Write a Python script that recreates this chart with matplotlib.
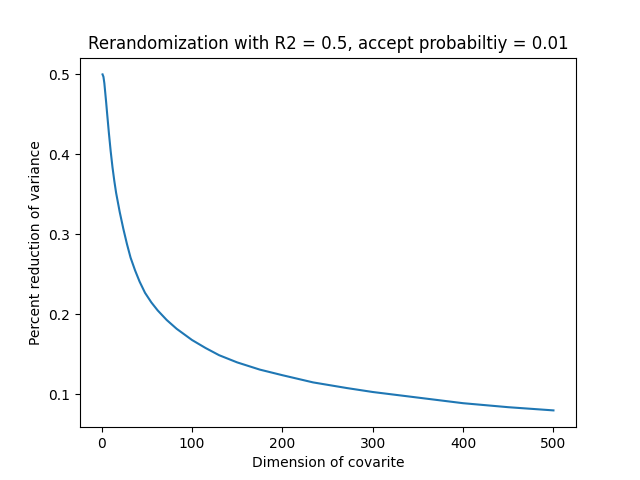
import matplotlib
matplotlib.use("Agg")
import matplotlib.pyplot as plt

# values
dimension = [1, 2, 3, 4, 5, 6, 8, 10, 12, 14, 16, 20, 24, 28, 32, 37, 42,
             48, 55, 62, 72, 83, 100, 115, 130, 150, 175, 200, 234, 271,
             300, 350, 400, 450, 500]
reduction = [0.500, 0.497, 0.489, 0.477, 0.465, 0.452, 0.427, 0.404, 0.384,
             0.367, 0.352, 0.328, 0.307, 0.288, 0.271, 0.255, 0.241, 0.227,
             0.215, 0.205, 0.193, 0.182, 0.168, 0.158, 0.149, 0.140, 0.131,
             0.124, 0.115, 0.108, 0.103, 0.096, 0.089, 0.084, 0.080]

plt.figure(figsize=(6.4, 4.8), dpi=100)
plt.plot(dimension, reduction)
plt.title("Rerandomization with R2 = 0.5, accept probabiltiy = 0.01")
plt.xlabel("Dimension of covarite")
plt.ylabel("Percent reduction of variance")
plt.savefig("out.png")
plt.close()
